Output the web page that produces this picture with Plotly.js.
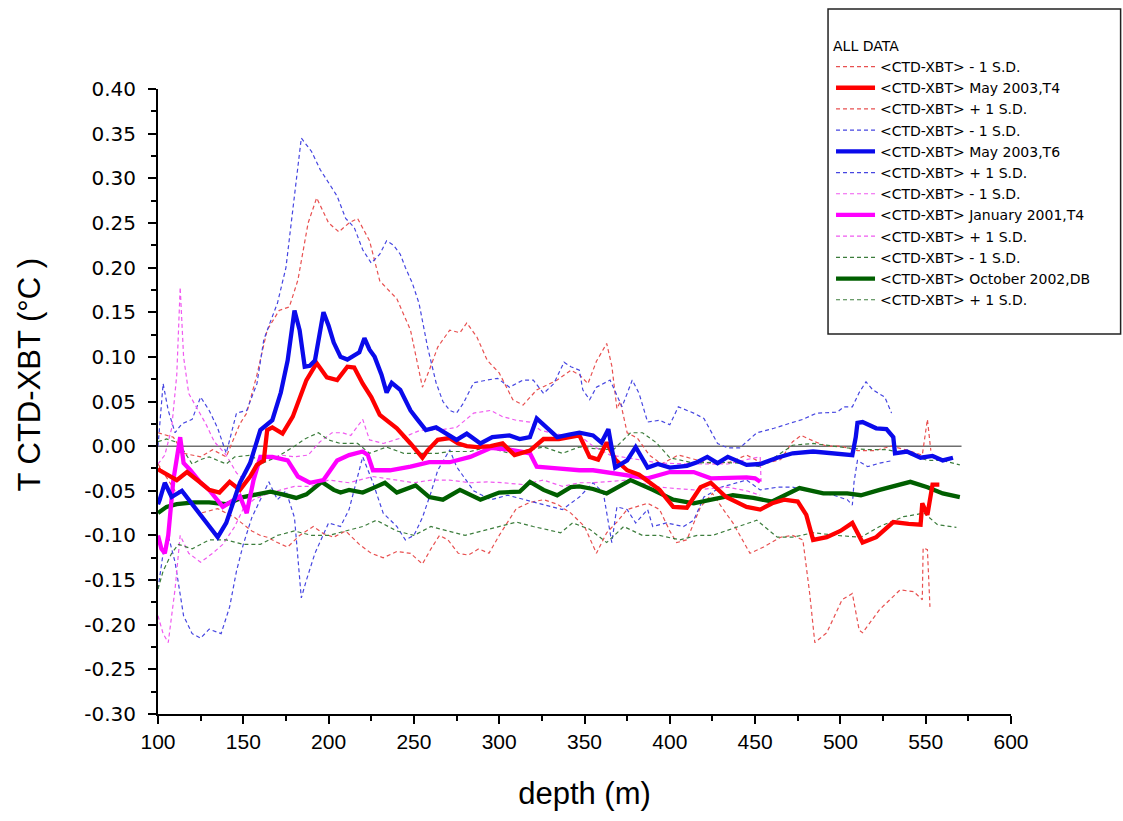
<!DOCTYPE html>
<html>
<head>
<meta charset="utf-8">
<script src="https://cdn.plot.ly/plotly-3.0.1.min.js"></script>
<style>
html,body{margin:0;padding:0;background:#fff;}
#chart{width:1123px;height:821px;}
</style>
</head>
<body>
<div id="chart"></div>
<script>
// ---------- data (depth in m, value in °C) ----------
const legendTitle = "ALL DATA";
const xTitle = "depth (m)";
const yTitle = "T CTD-XBT (°C )";

const xTickVals = [100,150,200,250,300,350,400,450,500,550,600];
const yTickVals = [0.40,0.35,0.30,0.25,0.20,0.15,0.10,0.05,0.00,-0.05,-0.10,-0.15,-0.20,-0.25,-0.30];
const yTickText = ["0.40","0.35","0.30","0.25","0.20","0.15","0.10","0.05","0.00","-0.05","-0.10","-0.15","-0.20","-0.25","-0.30"];

// May 2003, T4 (red)
const t4May_d = [100,101,111,117,125,130,136,142,148,154,158,162,164,167,173,179,187,193,199,205,211,215,220,225,230,235,240,248,255,258,264,271,276,281,287,295,302,309,318,326,335,347,353,358,363,368,375,382,388,394,402,410,418,424,433,440,445,453,460,467,475,480,484,492,500,507,513,521,531,540,547,548,551,554,558];
const t4May_v = [-0.025,-0.027,-0.038,-0.029,-0.041,-0.049,-0.052,-0.04,-0.049,-0.034,-0.021,-0.016,0.018,0.021,0.014,0.033,0.074,0.093,0.077,0.074,0.089,0.088,0.07,0.055,0.035,0.028,0.02,0.003,-0.013,-0.005,0.007,0.009,0.003,0.0,-0.001,0.0,0.003,-0.01,-0.005,0.008,0.008,0.012,-0.012,-0.015,0.004,-0.015,-0.027,-0.032,-0.04,-0.049,-0.068,-0.069,-0.046,-0.041,-0.057,-0.063,-0.068,-0.071,-0.064,-0.06,-0.062,-0.077,-0.105,-0.102,-0.095,-0.086,-0.108,-0.102,-0.085,-0.087,-0.088,-0.064,-0.077,-0.043,-0.043];
const t4May_lo_d = [100,105,110,115,120,125,135,145,155,160,164,170,176,183,191,197,203,210,218,225,232,240,248,255,260,265,270,276,282,288,294,300,305,310,318,326,334,342,350,357,363,369,375,380,387,394,400,404,410,418,425,431,437,447,455,465,472,478,482,485,492,501,507,511,513,523,535,543,548,548.5,551,552.5];
const t4May_lo_v = [-0.02,-0.035,-0.05,-0.05,-0.065,-0.075,-0.07,-0.08,-0.095,-0.1,-0.102,-0.108,-0.113,-0.1,-0.09,-0.098,-0.102,-0.095,-0.11,-0.12,-0.125,-0.118,-0.12,-0.132,-0.115,-0.1,-0.105,-0.12,-0.122,-0.115,-0.12,-0.1,-0.085,-0.07,-0.063,-0.06,-0.065,-0.075,-0.09,-0.12,-0.097,-0.085,-0.071,-0.068,-0.064,-0.071,-0.095,-0.108,-0.105,-0.068,-0.053,-0.07,-0.086,-0.12,-0.113,-0.102,-0.1,-0.105,-0.165,-0.22,-0.209,-0.172,-0.165,-0.206,-0.209,-0.183,-0.161,-0.163,-0.172,-0.114,-0.116,-0.18];
const t4May_hi_d = [100,105,109,115,125,132,140,148,152,158,164,171,177,182,188,193,200,206,212,217,224,230,240,248,255,259,264,271,277,281,287,293,300,308,314,322,334,342,347,352,357,363,366,369,371,375,381,388,395,405,415,425,435,445,455,465,472,477,485,492,500,510,520,530,540,548,551,553];
const t4May_hi_v = [0.015,0.012,0.01,-0.008,-0.012,-0.004,-0.012,0.025,0.037,0.08,0.13,0.152,0.156,0.186,0.25,0.278,0.25,0.24,0.25,0.255,0.23,0.185,0.165,0.13,0.066,0.085,0.111,0.13,0.127,0.138,0.122,0.096,0.082,0.052,0.046,0.063,0.074,0.085,0.08,0.07,0.095,0.115,0.09,0.042,0.05,0.015,0.009,-0.01,-0.02,-0.01,-0.015,-0.02,-0.018,-0.01,-0.02,-0.015,0.005,0.012,0.005,0.0,0.0,-0.005,-0.005,0.0,-0.005,-0.01,0.03,-0.005];

// May 2003, T6 (blue)
const t6May_d = [100,101,104,108,114,118,123,129,135,140,144,148,154,160,167,172,176,180,183,186,189,192,197,200,203,207,211,214,218,221,224,227,231,234,237,242,248,252,257,263,269,275,281,289,296,306,312,318,322,328,334,341,347,355,360,364,368,375,380,387,393,400,410,416,422,428,434,445,453,463,472,484,498,507,509,510,513,521,527,531,532,539,547,554,560,566];
const t6May_v = [-0.065,-0.06,-0.041,-0.057,-0.05,-0.06,-0.072,-0.088,-0.102,-0.086,-0.065,-0.041,-0.019,0.018,0.029,0.06,0.096,0.152,0.13,0.089,0.09,0.096,0.15,0.135,0.116,0.1,0.097,0.1,0.105,0.121,0.108,0.1,0.08,0.06,0.071,0.063,0.04,0.03,0.018,0.021,0.014,0.007,0.014,0.003,0.01,0.012,0.008,0.01,0.031,0.021,0.01,0.013,0.015,0.012,0.004,0.019,-0.024,-0.016,-0.001,-0.024,-0.02,-0.024,-0.022,-0.018,-0.012,-0.019,-0.012,-0.021,-0.02,-0.013,-0.008,-0.006,-0.008,-0.01,0.01,0.026,0.027,0.02,0.019,0.01,-0.008,-0.006,-0.013,-0.011,-0.016,-0.013];
const t6May_lo_d = [100,103,106,110,115,120,125,130,137,142,146,150,155,160,165,170,175,180,184,187,192,200,207,212,216,220,226,232,240,245,250,255,260,264,271,275,285,295,305,315,325,337,347,355,361,366,369,375,380,387,390,398,408,414,420,430,445,453,463,472,484,496,504,507,508,510,516,523,531];
const t6May_lo_v = [-0.16,-0.12,-0.1,-0.13,-0.19,-0.21,-0.215,-0.205,-0.21,-0.18,-0.14,-0.11,-0.08,-0.06,-0.04,-0.06,-0.05,-0.08,-0.17,-0.15,-0.12,-0.086,-0.09,-0.071,-0.04,-0.012,-0.041,-0.075,-0.09,-0.105,-0.1,-0.08,-0.052,-0.027,-0.004,-0.023,-0.05,-0.06,-0.055,-0.06,-0.065,-0.071,-0.057,-0.041,-0.052,-0.108,-0.068,-0.071,-0.086,-0.071,-0.09,-0.086,-0.09,-0.083,-0.057,-0.046,-0.038,-0.049,-0.046,-0.046,-0.051,-0.055,-0.06,-0.066,-0.04,-0.016,-0.023,-0.019,-0.016];
const t6May_hi_d = [100,103,106,110,114,120,125,130,135,140,146,152,158,162,166,170,175,180,184,190,195,200,205,210,215,220,225,230,234,238,242,245,249,253,258,263,267,271,275,279,285,293,299,306,314,320,326,332,338,342,347,349,353,357,365,372,378,382,387,394,400,405,414,420,428,434,441,451,461,471,478,486,498,502,507,511,515,519,526,530];
const t6May_hi_v = [0.0,0.07,0.04,0.015,0.025,0.03,0.055,0.04,0.02,-0.008,0.037,0.04,0.07,0.119,0.14,0.16,0.2,0.28,0.345,0.33,0.31,0.295,0.28,0.255,0.245,0.22,0.205,0.215,0.23,0.225,0.215,0.2,0.183,0.16,0.111,0.071,0.05,0.04,0.037,0.048,0.071,0.074,0.076,0.066,0.074,0.074,0.059,0.07,0.094,0.089,0.085,0.063,0.052,0.066,0.074,0.044,0.074,0.059,0.027,0.029,0.024,0.044,0.037,0.031,0.003,-0.002,-0.002,0.015,0.02,0.026,0.03,0.037,0.038,0.044,0.044,0.06,0.072,0.063,0.055,0.037];

// January 2001, T4 (magenta)
const t4Jan_d = [100,102,104,106,109,111,113,115,119,125,130,138,144,148,152,156,160,167,176,182,189,197,205,212,220,223,226,236,248,259,271,283,295,306,318,322,334,347,355,375,387,400,414,424,437,445,450,453];
const t4Jan_v = [-0.1,-0.115,-0.12,-0.1,-0.038,-0.01,0.01,-0.019,-0.027,-0.041,-0.049,-0.068,-0.06,-0.056,-0.075,-0.038,-0.012,-0.012,-0.016,-0.034,-0.041,-0.038,-0.016,-0.01,-0.006,-0.01,-0.027,-0.027,-0.023,-0.018,-0.018,-0.012,-0.002,-0.004,-0.008,-0.023,-0.025,-0.027,-0.027,-0.032,-0.036,-0.029,-0.029,-0.036,-0.035,-0.035,-0.036,-0.04];
const t4Jan_lo_d = [100,103,106,110,113,118,125,132,138,145,150,156,162,170,180,190,200,212,226,240,250,260,271,283,293,302,314,326,337,347,355,375,394,414,434,445,453];
const t4Jan_lo_v = [-0.19,-0.21,-0.22,-0.16,-0.1,-0.12,-0.13,-0.12,-0.11,-0.09,-0.07,-0.06,-0.055,-0.05,-0.045,-0.045,-0.038,-0.041,-0.034,-0.038,-0.041,-0.038,-0.038,-0.041,-0.04,-0.041,-0.043,-0.038,-0.045,-0.041,-0.041,-0.038,-0.046,-0.049,-0.046,-0.05,-0.055];
const t4Jan_hi_d = [100,104,108,111,113,115,118,122,128,133,140,146,152,158,165,172,180,188,195,202,208,213,220,224,232,244,254,265,275,285,295,302,310,318,324,330,338,347,355,365,375,385,394,414,434,445,453,453.5];
const t4Jan_hi_v = [-0.02,-0.01,0.02,0.08,0.178,0.1,0.059,0.045,0.025,0.005,-0.01,-0.03,-0.04,-0.02,-0.015,-0.01,-0.012,-0.01,0.005,0.015,0.015,0.012,0.03,0.007,0.003,0.01,0.018,0.018,0.021,0.037,0.04,0.033,0.029,0.027,0.018,0.015,0.012,0.012,0.0,-0.01,-0.013,-0.016,-0.019,-0.02,-0.02,-0.015,-0.012,-0.04];

// October 2002, DB (green)
const dbOct_d = [100,105,111,121,130,140,150,158,166,173,181,187,196,203,207,212,220,226,233,240,251,259,267,277,289,300,312,318,326,334,342,347,355,363,377,390,402,414,425,437,449,460,476,490,504,512,523,541,551,560,570];
const dbOct_v = [-0.075,-0.068,-0.065,-0.063,-0.063,-0.065,-0.057,-0.054,-0.051,-0.054,-0.058,-0.054,-0.04,-0.049,-0.052,-0.049,-0.052,-0.047,-0.041,-0.052,-0.044,-0.057,-0.06,-0.049,-0.06,-0.052,-0.051,-0.04,-0.049,-0.055,-0.046,-0.045,-0.048,-0.053,-0.038,-0.049,-0.06,-0.064,-0.06,-0.055,-0.058,-0.062,-0.047,-0.053,-0.053,-0.055,-0.049,-0.04,-0.046,-0.053,-0.057];
const dbOct_lo_d = [100,103,108,112,120,130,140,150,160,170,180,190,200,210,220,228,240,250,260,270,280,290,300,310,320,336,343,353,363,373,384,394,406,416,425,434,451,463,472,484,498,512,523,537,549,557,568];
const dbOct_lo_v = [-0.16,-0.14,-0.12,-0.11,-0.115,-0.105,-0.105,-0.11,-0.11,-0.1,-0.095,-0.1,-0.1,-0.095,-0.09,-0.083,-0.095,-0.1,-0.09,-0.095,-0.1,-0.095,-0.09,-0.085,-0.09,-0.097,-0.086,-0.093,-0.108,-0.09,-0.1,-0.1,-0.105,-0.1,-0.1,-0.094,-0.083,-0.102,-0.102,-0.097,-0.1,-0.102,-0.09,-0.079,-0.075,-0.088,-0.091];
const dbOct_hi_d = [100,105,110,115,120,125,130,140,145,155,160,170,180,186,194,200,207,217,224,234,244,255,264,271,283,293,306,318,326,337,347,357,367,377,384,392,400,414,428,441,453,465,472,484,492,504,516,527,539,551,560,570];
const dbOct_hi_v = [0.005,0.008,0.005,-0.005,-0.02,-0.015,-0.012,-0.02,-0.012,-0.01,-0.02,-0.012,0.0,0.008,0.015,0.007,0.003,0.003,-0.008,-0.001,-0.008,-0.008,-0.008,-0.006,-0.006,-0.001,-0.008,-0.004,-0.001,-0.008,-0.001,-0.003,-0.004,0.015,0.015,0.004,-0.013,-0.019,-0.018,-0.019,-0.023,-0.008,0.001,0.003,0.001,-0.002,-0.004,-0.004,-0.008,-0.016,-0.016,-0.021];

// zero reference line extent
const zero_d = [100, 571];
const zero_v = [0, 0];

const nameLo = "<CTD-XBT> - 1 S.D.";
const nameHi = "<CTD-XBT> + 1 S.D.";
const nameT4May = "<CTD-XBT> May 2003,T4";
const nameT6May = "<CTD-XBT> May 2003,T6";
const nameT4Jan = "<CTD-XBT> January 2001,T4";
const nameDbOct = "<CTD-XBT> October 2002,DB";

// ---------- styles ----------
const C = {
  red: 'rgb(255,0,0)', redD: 'rgb(232,80,80)',
  blue: 'rgb(10,10,235)', blueD: 'rgb(70,70,225)',
  mag: 'rgb(255,0,255)', magD: 'rgb(240,90,240)',
  grn: 'rgb(0,95,0)', grnD: 'rgb(60,125,60)'
};
const DASH = '4px,3px';
function dashed(x, y, name, color, rank) {
  return {x, y, name, type: 'scatter', mode: 'lines', legendrank: rank,
    line: {color, width: 1.2, dash: DASH}, hoverinfo: 'skip'};
}
function solid(x, y, name, color, rank) {
  return {x, y, name, type: 'scatter', mode: 'lines', legendrank: rank,
    line: {color, width: 4.3}, hoverinfo: 'skip'};
}

const traces = [
  {x: zero_d, y: zero_v, type: 'scatter', mode: 'lines', showlegend: false,
   line: {color: 'rgb(110,110,110)', width: 1.5}, hoverinfo: 'skip'},
  dashed(t4May_lo_d, t4May_lo_v, nameLo, C.redD, 1),
  dashed(t4May_hi_d, t4May_hi_v, nameHi, C.redD, 3),
  dashed(t6May_lo_d, t6May_lo_v, nameLo, C.blueD, 4),
  dashed(t6May_hi_d, t6May_hi_v, nameHi, C.blueD, 6),
  dashed(t4Jan_lo_d, t4Jan_lo_v, nameLo, C.magD, 7),
  dashed(t4Jan_hi_d, t4Jan_hi_v, nameHi, C.magD, 9),
  dashed(dbOct_lo_d, dbOct_lo_v, nameLo, C.grnD, 10),
  dashed(dbOct_hi_d, dbOct_hi_v, nameHi, C.grnD, 12),
  solid(dbOct_d, dbOct_v, nameDbOct, C.grn, 11),
  solid(t4Jan_d, t4Jan_v, nameT4Jan, C.mag, 8),
  solid(t4May_d, t4May_v, nameT4May, C.red, 2),
  solid(t6May_d, t6May_v, nameT6May, C.blue, 5)
];

const FONT = 'Liberation Sans, Arial, sans-serif';
const WIDE = 'DejaVu Sans, Liberation Sans, sans-serif';
const axisCommon = {
  showline: true, linecolor: '#000', linewidth: 2,
  ticks: 'outside', ticklen: 8, tickwidth: 2, tickcolor: '#000',
  showgrid: false, zeroline: false, mirror: false
};

const layout = {
  width: 1123, height: 821,
  paper_bgcolor: '#fff', plot_bgcolor: '#fff',
  margin: {l: 158, r: 112, t: 89, b: 107, pad: 0},
  showlegend: true,
  xaxis: Object.assign({}, axisCommon, {
    range: [100, 600], tickmode: 'array', tickvals: xTickVals,
    tickfont: {family: FONT, size: 21, color: '#000'},
    minor: {dtick: 25, tick0: 100, ticklen: 5, tickwidth: 2, tickcolor: '#000', ticks: 'outside'},
    title: {text: xTitle, font: {family: FONT, size: 31, color: '#000'}, standoff: 30}
  }),
  yaxis: Object.assign({}, axisCommon, {
    range: [-0.30, 0.40], tickmode: 'array', tickvals: yTickVals, ticktext: yTickText,
    tickfont: {family: WIDE, size: 20, color: '#000'},
    ticklabelstandoff: 8,
    minor: {dtick: 0.025, tick0: 0, ticklen: 5, tickwidth: 2, tickcolor: '#000', ticks: 'outside'}
  }),
  legend: {
    x: 0.789, xanchor: 'left', y: 1.090, yanchor: 'top',
    bgcolor: 'rgba(0,0,0,0)', borderwidth: 0,
    font: {family: WIDE, size: 14, color: '#000'},
    title: {text: legendTitle, font: {family: WIDE, size: 14, color: '#000'}},
    tracegroupgap: 0, itemwidth: 39
  },
  shapes: [
    {type: 'rect', xref: 'paper', yref: 'paper',
     x0: 0.7855, x1: 1.1285, y0: 0.608, y1: 1.128,
     line: {color: '#222', width: 1.5}, fillcolor: 'rgba(0,0,0,0)', layer: 'below'}
  ],
  annotations: [
    {text: yTitle, xref: 'paper', yref: 'paper', x: -0.151, y: 0.542,
     xanchor: 'center', yanchor: 'middle', textangle: -90, showarrow: false,
     font: {family: FONT, size: 31, color: '#000'}}
  ]
};

Plotly.newPlot('chart', traces, layout, {displayModeBar: false, staticPlot: true});
</script>
</body>
</html>
